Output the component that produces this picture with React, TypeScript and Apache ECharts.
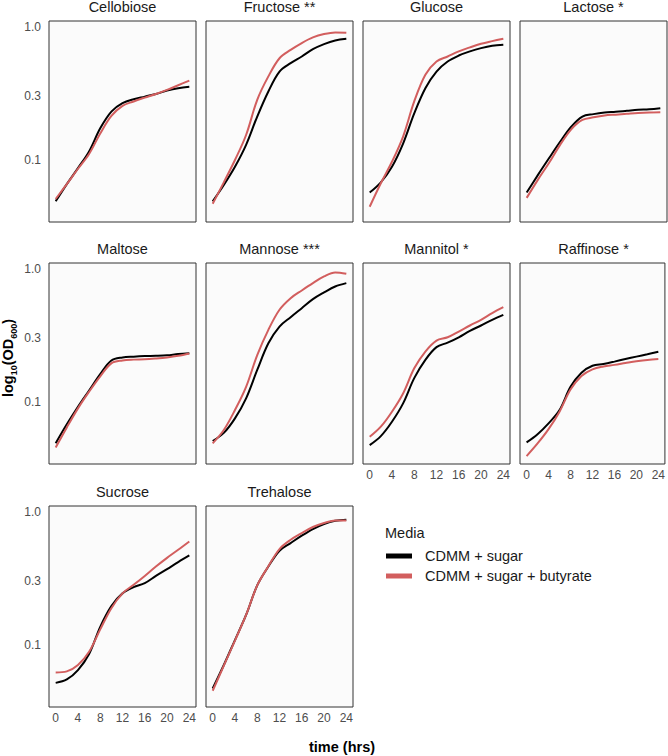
import React, { useEffect, useRef } from "react";
import * as echarts from "echarts";

const hours = [0, 2, 4, 6, 8, 10, 12, 14, 16, 18, 20, 22, 24];
const mediaNames = ["CDMM + sugar", "CDMM + sugar + butyrate"];
const panelTitles = [
  "Cellobiose", "Fructose **", "Glucose", "Lactose *",
  "Maltose", "Mannose ***", "Mannitol *", "Raffinose *",
  "Sucrose", "Trehalose",
];

const cellobioseSugar = [0.049, 0.066, 0.087, 0.116, 0.173, 0.231, 0.267, 0.286, 0.299, 0.313, 0.332, 0.346, 0.354];
const cellobioseButyrate = [0.051, 0.066, 0.086, 0.111, 0.158, 0.214, 0.255, 0.275, 0.294, 0.313, 0.336, 0.364, 0.394];
const fructoseSugar = [0.049, 0.065, 0.089, 0.13, 0.212, 0.327, 0.461, 0.533, 0.598, 0.679, 0.741, 0.789, 0.813];
const fructoseButyrate = [0.047, 0.068, 0.1, 0.154, 0.283, 0.424, 0.58, 0.67, 0.754, 0.831, 0.881, 0.906, 0.9];
const glucoseSugar = [0.057, 0.068, 0.089, 0.133, 0.224, 0.346, 0.461, 0.548, 0.608, 0.653, 0.691, 0.72, 0.733];
const glucoseButyrate = [0.0446, 0.067, 0.097, 0.15, 0.275, 0.436, 0.548, 0.598, 0.653, 0.7, 0.745, 0.78, 0.813];
const lactoseSugar = [0.057, 0.077, 0.103, 0.137, 0.178, 0.212, 0.221, 0.227, 0.23, 0.234, 0.238, 0.24, 0.245];
const lactoseButyrate = [0.052, 0.071, 0.095, 0.13, 0.17, 0.2, 0.209, 0.216, 0.219, 0.222, 0.225, 0.227, 0.228];
const maltoseSugar = [0.049, 0.068, 0.092, 0.122, 0.162, 0.205, 0.216, 0.219, 0.221, 0.222, 0.224, 0.229, 0.232];
const maltoseButyrate = [0.0456, 0.0645, 0.0896, 0.1196, 0.156, 0.195, 0.205, 0.208, 0.209, 0.212, 0.216, 0.222, 0.231];
const mannoseSugar = [0.051, 0.0587, 0.0754, 0.1066, 0.174, 0.276, 0.368, 0.433, 0.506, 0.591, 0.664, 0.736, 0.78];
const mannoseButyrate = [0.049, 0.0616, 0.087, 0.13, 0.225, 0.348, 0.492, 0.601, 0.687, 0.78, 0.875, 0.938, 0.916];
const mannitolSugar = [0.0475, 0.0555, 0.0711, 0.0977, 0.151, 0.207, 0.258, 0.279, 0.306, 0.342, 0.375, 0.414, 0.451];
const mannitolButyrate = [0.0548, 0.0653, 0.0846, 0.116, 0.179, 0.239, 0.289, 0.306, 0.338, 0.375, 0.414, 0.465, 0.515];
const raffinoseSugar = [0.0498, 0.0574, 0.0692, 0.087, 0.13, 0.166, 0.187, 0.193, 0.201, 0.21, 0.219, 0.228, 0.238];
const raffinoseButyrate = [0.0393, 0.0489, 0.0626, 0.0846, 0.124, 0.157, 0.176, 0.185, 0.19, 0.196, 0.202, 0.207, 0.21];
const sucroseSugar = [0.052, 0.0552, 0.0649, 0.0856, 0.137, 0.196, 0.244, 0.272, 0.291, 0.33, 0.371, 0.419, 0.47];
const sucroseButyrate = [0.0622, 0.0634, 0.0708, 0.089, 0.131, 0.189, 0.244, 0.283, 0.33, 0.388, 0.451, 0.518, 0.598];
const trehaloseSugar = [0.0472, 0.0708, 0.109, 0.168, 0.28, 0.388, 0.51, 0.582, 0.661, 0.741, 0.809, 0.855, 0.871];
const trehaloseButyrate = [0.0454, 0.07, 0.108, 0.168, 0.28, 0.39, 0.525, 0.616, 0.692, 0.768, 0.823, 0.86, 0.86];

const yTickValues = [0.1, 0.3, 1.0];
const yTickLabels = ["0.1", "0.3", "1.0"];
const xTickValues = [0, 4, 8, 12, 16, 20, 24];

const sugarSeries = [
  cellobioseSugar, fructoseSugar, glucoseSugar, lactoseSugar, maltoseSugar,
  mannoseSugar, mannitolSugar, raffinoseSugar, sucroseSugar, trehaloseSugar,
];
const butyrateSeries = [
  cellobioseButyrate, fructoseButyrate, glucoseButyrate, lactoseButyrate, maltoseButyrate,
  mannoseButyrate, mannitolButyrate, raffinoseButyrate, sucroseButyrate, trehaloseButyrate,
];

const FONT = "'Liberation Sans', Arial, Helvetica, sans-serif";
const COLORS = ["#000000", "#D25E5E"];
const COL_LEFT = [49, 206, 363, 520];
const ROW_TOP = [21, 263, 506];
const PW = 147;
const PH = 201;
const Y_MIN = -1.465;
const Y_MAX = 0.043;
const X_MIN = -1.2;
const X_MAX = 25.2;
const X_LABEL_PANELS = [6, 7, 8, 9];

export default function App() {
  const ref = useRef<HTMLDivElement>(null);
  useEffect(() => {
    if (!ref.current) return;
    const chart = echarts.init(ref.current, null, { renderer: "svg" });
    const grids: any[] = [];
    const xAxes: any[] = [];
    const yAxes: any[] = [];
    const series: any[] = [];
    const graphics: any[] = [];
    const yCustom = yTickValues.map((v) => Math.log10(v));

    panelTitles.forEach((title, i) => {
      const col = i % 4;
      const row = Math.floor(i / 4);
      const left = COL_LEFT[col];
      const top = ROW_TOP[row];
      grids.push({
        left, top, width: PW, height: PH, show: true,
        backgroundColor: "#FBFBFB", borderColor: "#333333", borderWidth: 1,
        containLabel: false,
      });
      xAxes.push({
        gridIndex: i, type: "value", min: X_MIN, max: X_MAX,
        axisLine: { show: false }, axisTick: { show: false }, splitLine: { show: false },
        axisLabel: {
          show: X_LABEL_PANELS.includes(i), customValues: xTickValues,
          margin: 5, fontSize: 12, color: "#4D4D4D", fontFamily: FONT,
          formatter: (v: number) => String(Math.round(v)),
        },
      });
      yAxes.push({
        gridIndex: i, type: "value", min: Y_MIN, max: Y_MAX,
        axisLine: { show: false }, axisTick: { show: false }, splitLine: { show: false },
        axisLabel: {
          show: col === 0, customValues: yCustom,
          margin: 8, fontSize: 12, color: "#4D4D4D", fontFamily: FONT,
          formatter: (v: number) => {
            let best = 0;
            yCustom.forEach((c, k) => { if (Math.abs(c - v) < Math.abs(yCustom[best] - v)) best = k; });
            return yTickLabels[best];
          },
        },
      });
      [sugarSeries[i], butyrateSeries[i]].forEach((vals, k) => {
        series.push({
          type: "line", name: mediaNames[k], xAxisIndex: i, yAxisIndex: i,
          data: hours.map((h, j) => [h, Math.log10(vals[j])]),
          showSymbol: false, symbol: "none", smooth: 0.35,
          lineStyle: { color: COLORS[k], width: 2 },
          itemStyle: { color: COLORS[k] },
          z: 2 + k,
        });
      });
      graphics.push({
        type: "text", x: left + PW / 2, y: top - 14,
        style: {
          text: title, align: "center", verticalAlign: "middle",
          textAlign: "center", textVerticalAlign: "middle",
          fontSize: 14.5, fontFamily: FONT, fill: "#1A1A1A",
        },
      });
    });

    graphics.push({
      type: "text", x: 342, y: 747,
      style: {
        text: "time (hrs)", align: "center", verticalAlign: "middle",
        textAlign: "center", textVerticalAlign: "middle",
        fontSize: 14.5, fontWeight: "bold", fontFamily: FONT, fill: "#000000",
      },
    });
    graphics.push({
      type: "text", x: 8, y: 358, rotation: Math.PI / 2,
      style: {
        text: "{b|log}{s|10}{b|(OD}{s|600}{b|)}",
        align: "center", verticalAlign: "middle",
        textAlign: "center", textVerticalAlign: "middle",
        fontFamily: FONT, fill: "#000000",
        rich: {
          b: { fontSize: 14.5, fontWeight: "bold", lineHeight: 20, fontFamily: FONT, fill: "#000000", verticalAlign: "middle" },
          s: { fontSize: 9, fontWeight: "bold", lineHeight: 10, fontFamily: FONT, fill: "#000000", verticalAlign: "bottom" },
        },
      },
    });
    graphics.push({
      type: "text", x: 385, y: 533,
      style: {
        text: "Media", align: "left", verticalAlign: "middle",
        textAlign: "left", textVerticalAlign: "middle",
        fontSize: 14.5, fontFamily: FONT, fill: "#1A1A1A",
      },
    });

    chart.setOption({
      animation: false,
      textStyle: { fontFamily: FONT },
      grid: grids,
      xAxis: xAxes,
      yAxis: yAxes,
      series,
      graphic: graphics,
      legend: {
        orient: "vertical", left: 386, top: 548.5, padding: 0,
        itemWidth: 26, itemHeight: 5, itemGap: 5,
        icon: "rect", selectedMode: false,
        data: mediaNames.map((name) => ({ name, icon: "rect" })),
        textStyle: { fontSize: 14.5, color: "#1A1A1A", fontFamily: FONT, lineHeight: 15, padding: [0, 0, 0, 8] },
      },
    });
    return () => chart.dispose();
  }, []);
  return (
    <div
      ref={ref}
      style={{ position: "absolute", left: 0, top: 0, width: 668, height: 756, background: "#FFFFFF" }}
    />
  );
}
